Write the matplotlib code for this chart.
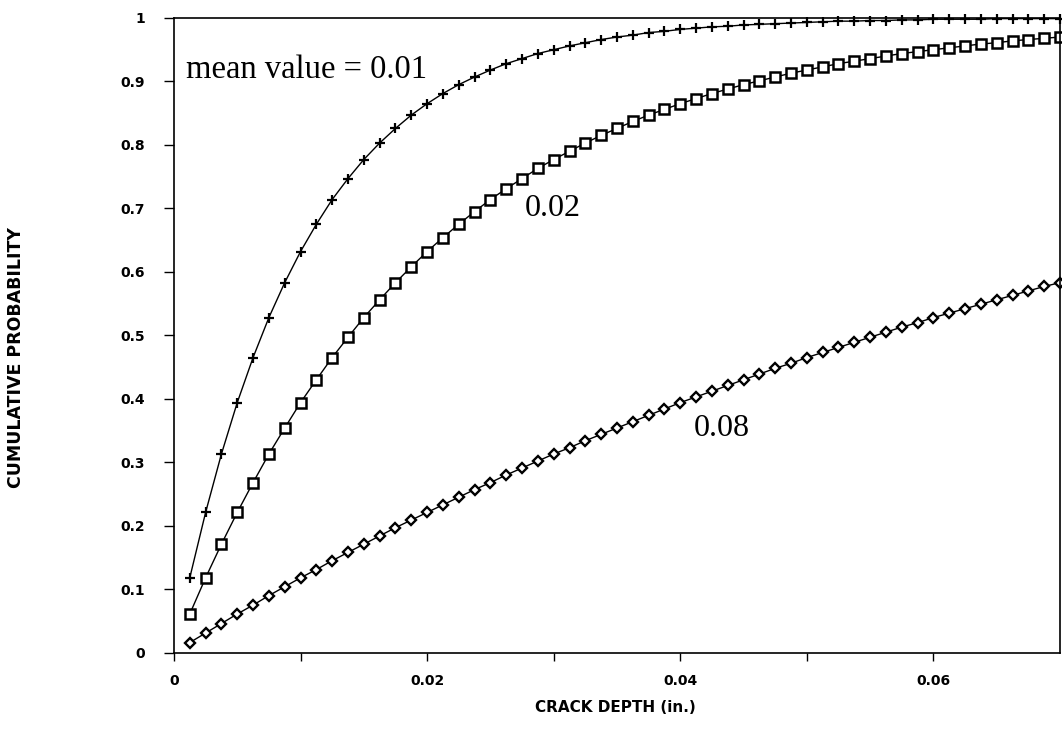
import matplotlib
matplotlib.use('Agg')
import matplotlib.pyplot as plt

# crack depth (in.), same grid for all three curves
depth = [0.00125, 0.0025, 0.00375, 0.005, 0.00625, 0.0075, 0.00875, 0.01,
         0.01125, 0.0125, 0.01375, 0.015, 0.01625, 0.0175, 0.01875, 0.02,
         0.02125, 0.0225, 0.02375, 0.025, 0.02625, 0.0275, 0.02875, 0.03,
         0.03125, 0.0325, 0.03375, 0.035, 0.03625, 0.0375, 0.03875, 0.04,
         0.04125, 0.0425, 0.04375, 0.045, 0.04625, 0.0475, 0.04875, 0.05,
         0.05125, 0.0525, 0.05375, 0.055, 0.05625, 0.0575, 0.05875, 0.06,
         0.06125, 0.0625, 0.06375, 0.065, 0.06625, 0.0675, 0.06875, 0.07]

# cumulative probability, mean value = 0.01
prob_001 = [0.118, 0.221, 0.313, 0.394, 0.465, 0.528, 0.583, 0.632,
            0.675, 0.714, 0.747, 0.777, 0.803, 0.826, 0.847, 0.865,
            0.881, 0.895, 0.907, 0.918, 0.928, 0.936, 0.944, 0.950,
            0.956, 0.961, 0.966, 0.970, 0.973, 0.977, 0.979, 0.982,
            0.984, 0.986, 0.987, 0.989, 0.990, 0.991, 0.992, 0.993,
            0.994, 0.995, 0.995, 0.996, 0.996, 0.997, 0.997, 0.998,
            0.998, 0.998, 0.998, 0.999, 0.999, 0.999, 0.999, 0.999]

# mean value = 0.02
prob_002 = [0.061, 0.118, 0.171, 0.221, 0.268, 0.313, 0.354, 0.394,
            0.430, 0.465, 0.497, 0.528, 0.556, 0.583, 0.608, 0.632,
            0.654, 0.675, 0.695, 0.714, 0.731, 0.747, 0.763, 0.777,
            0.790, 0.803, 0.815, 0.826, 0.837, 0.847, 0.856, 0.865,
            0.873, 0.881, 0.888, 0.895, 0.901, 0.907, 0.913, 0.918,
            0.923, 0.928, 0.932, 0.936, 0.940, 0.944, 0.947, 0.950,
            0.953, 0.956, 0.959, 0.961, 0.964, 0.966, 0.968, 0.970]

# mean value = 0.08
prob_008 = [0.016, 0.031, 0.046, 0.061, 0.075, 0.090, 0.104, 0.118,
            0.131, 0.145, 0.158, 0.171, 0.184, 0.197, 0.209, 0.221,
            0.233, 0.245, 0.257, 0.268, 0.280, 0.291, 0.302, 0.313,
            0.323, 0.334, 0.344, 0.354, 0.364, 0.374, 0.384, 0.394,
            0.403, 0.412, 0.421, 0.430, 0.439, 0.448, 0.456, 0.465,
            0.473, 0.481, 0.489, 0.497, 0.505, 0.513, 0.520, 0.528,
            0.535, 0.542, 0.549, 0.556, 0.563, 0.570, 0.577, 0.583]

y_ticks = [0, 0.1, 0.2, 0.3, 0.4, 0.5, 0.6, 0.7, 0.8, 0.9, 1]
y_tick_labels = ['0', '0.1', '0.2', '0.3', '0.4', '0.5', '0.6', '0.7', '0.8', '0.9', '1']
x_ticks = [0, 0.02, 0.04, 0.06]
x_tick_labels = ['0', '0.02', '0.04', '0.06']
x_minor = [0.01, 0.03, 0.05]

fig = plt.figure(figsize=(10.62, 7.31), dpi=100)
ax = fig.add_axes([0.1638, 0.1071, 0.8343, 0.8683])

ax.plot(depth, prob_001, color='black', lw=1.0, marker='+', ms=7.5,
        mew=1.6, clip_on=False)
ax.plot(depth, prob_002, color='black', lw=1.0, marker='s', ms=7.5,
        mew=1.8, mfc='white', clip_on=False)
ax.plot(depth, prob_008, color='black', lw=1.0, marker='D', ms=5.5,
        mew=1.7, mfc='white', clip_on=False)

ax.set_xlim(0, 0.07)
ax.set_ylim(0, 1)

tick_font = dict(family='DejaVu Sans', weight='bold', size=10)
ax.set_xticks(x_ticks)
ax.set_xticklabels(x_tick_labels, **tick_font)
ax.set_xticks(x_minor, minor=True)
ax.set_yticks(y_ticks)
ax.set_yticklabels(y_tick_labels, **tick_font)

ax.tick_params(axis='x', which='both', direction='out', length=6, width=1.0, pad=9)
ax.tick_params(axis='y', direction='out', length=7, width=1.0, pad=14)

for s in ax.spines.values():
    s.set_linewidth(1.2)

ax.set_xlabel('CRACK DEPTH (in.)', family='DejaVu Sans', weight='bold', size=11)
ax.set_ylabel('CUMULATIVE PROBABILITY', family='DejaVu Sans', weight='bold', size=12.5)
ax.xaxis.set_label_coords(0.498, -0.075)
ax.yaxis.set_label_coords(-0.168, 0.465)

serif = 'Liberation Serif'
ax.text(0.00095, 0.918, 'mean value = 0.01', family=serif, size=23.5,
        ha='left', va='center')
ax.text(0.0299, 0.70, '0.02', family=serif, size=23, ha='center', va='center')
ax.text(0.0433, 0.353, '0.08', family=serif, size=23, ha='center', va='center')

fig.savefig('out.png', dpi=100)
